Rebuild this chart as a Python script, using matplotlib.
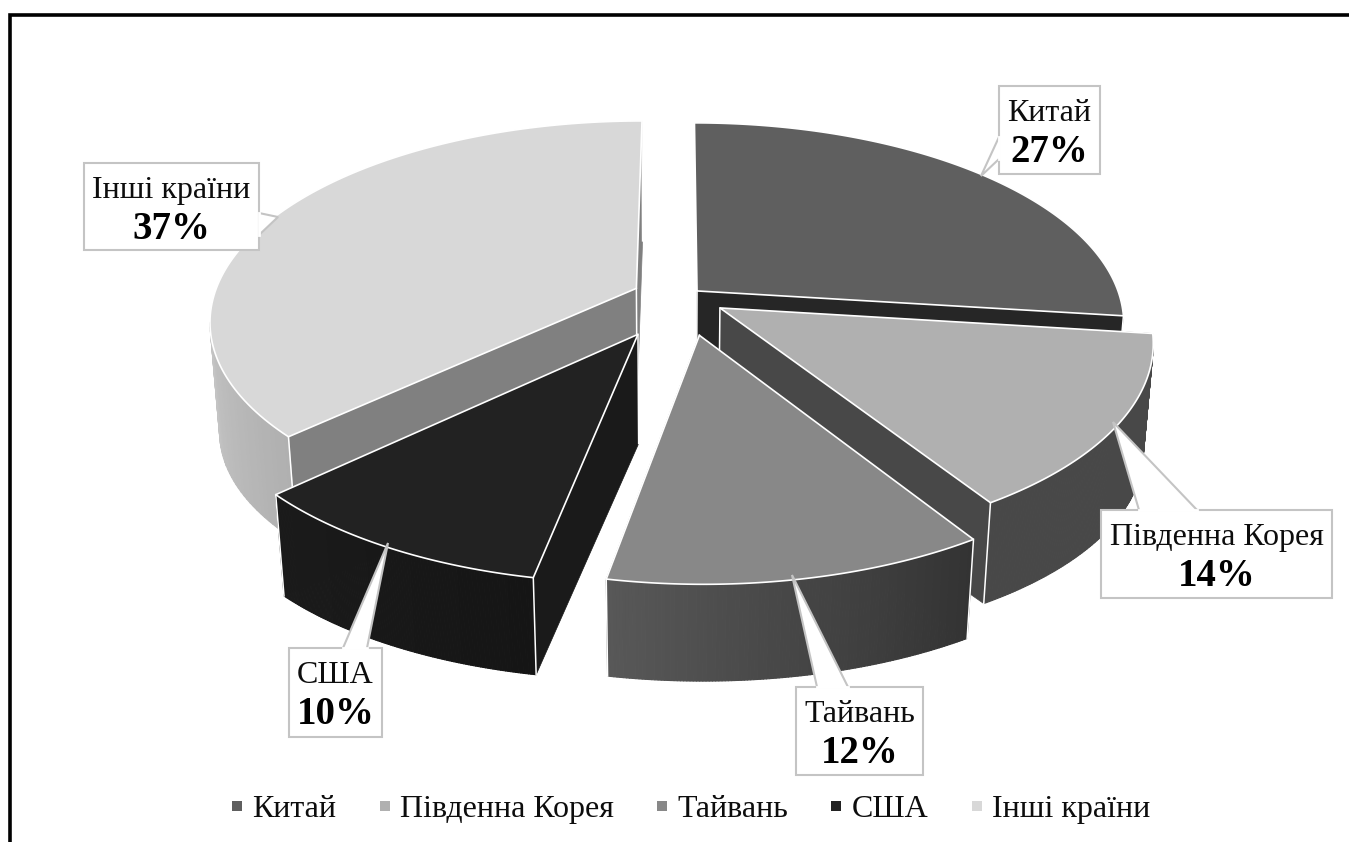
import numpy as np
import matplotlib
matplotlib.use("Agg")
import matplotlib.pyplot as plt
from matplotlib.collections import PolyCollection
from matplotlib.lines import Line2D
from matplotlib.patches import Polygon

plt.rcParams['font.family'] = ['Liberation Serif', 'DejaVu Sans']

# Data
countries = ["Китай", "Південна Корея", "Тайвань", "США", "Інші країни"]
shares = [27, 14, 12, 10, 37]

# Colours of each slice
top_colors = ["#5f5f5f", "#b0b0b0", "#888888", "#222222", "#d8d8d8"]
cut_colors = ["#262626", "#484848", "#444444", "#1a1a1a", "#808080"]
rim_from = ["#282828", "#484848", "#333333", "#151515", "#b0b0b0"]
rim_to = ["#282828", "#484848", "#585858", "#1b1b1b", "#c4c4c4"]

# Perspective of the pie, fitted on the reference corners
center_x, center_y = 677.97, -50.35
radius, depth, persp = 305.14, 102.15, 0.1136
explode_x = [0.0453, 0.0983, 0.0491, -0.0918, -0.0990]
explode_y = [-2.4219, -2.5080, -2.6423, -2.6374, -2.4085]

# Callout boxes: left, top, right, bottom, then the pointer
boxes = [(999, 86, 1100, 174), (1101, 510, 1332, 598), (796, 687, 923, 775),
         (289, 648, 382, 737), (84, 163, 259, 250)]
pointers = [[(999, 137), (981, 176), (999, 159)],
            [(1139, 510), (1113, 422), (1197, 510)],
            [(817, 687), (792, 575), (848, 687)],
            [(343, 648), (388, 543), (367, 648)],
            [(259, 213), (278, 217), (259, 235)]]


def project(X, Y):
    f = 1 / (1 + persp * Y)
    return center_x + radius * X * f, center_y - depth * Y * f


def drop(x, y):
    # bottom of the pie for a point of its top face
    return x - 0.021 * (x - 670), y + 97 + 0.05 * (580 - y)


def to_rgb(c):
    return np.array(matplotlib.colors.to_rgb(c))


fig = plt.figure(figsize=(13.49, 8.42), dpi=100)
ax = fig.add_axes([0, 0, 1, 1])
ax.set_xlim(0, 1349)
ax.set_ylim(842, 0)
ax.axis("off")

# frame, only top and left are there
ax.plot([10, 10, 1349], [842, 14.5, 14.5], color="black", lw=2.6, solid_joinstyle="miter")

angles = np.concatenate([[0], np.cumsum(shares)]) / sum(shares) * 2 * np.pi

# back slices first, zorder keeps the painting order
z = 2
for i in [0, 4, 1, 3, 2]:
    t = np.linspace(angles[i], angles[i + 1], 121)
    xr, yr = project(explode_x[i] + np.sin(t), explode_y[i] + np.cos(t))
    xa, ya = project(explode_x[i], explode_y[i])
    xb, yb = drop(xr, yr)
    xab, yab = drop(xa, ya)

    # cut faces, the first slice shows only its end one
    for k in ([-1] if i == 0 else [0, -1]):
        ax.add_patch(Polygon([(xa, ya), (xr[k], yr[k]), (xb[k], yb[k]), (xab, yab)],
                             closed=True, fc=cut_colors[i], ec=cut_colors[i], lw=0.5, zorder=z))

    # outer wall with its shading, only the part that faces the viewer
    front = [k for k in range(len(t) - 1) if xr[k + 1] < xr[k]]
    quads = []
    shade = []
    for n, k in enumerate(front):
        quads.append([(xr[k], yr[k]), (xr[k + 1], yr[k + 1]), (xb[k + 1], yb[k + 1]), (xb[k], yb[k])])
        shade.append(to_rgb(rim_from[i]) + (to_rgb(rim_to[i]) - to_rgb(rim_from[i])) * n / max(len(front) - 1, 1))
    ax.add_collection(PolyCollection(quads, facecolors=shade, edgecolors=shade, linewidths=0.8, zorder=z + 0.1))

    # white corners, not on the outline of slice 2
    corners = [(xa, ya, xab, yab), (xr[-1], yr[-1], xb[-1], yb[-1])]
    if i != 1:
        corners.append((xr[0], yr[0], xb[0], yb[0]))
    for xv, yv, xw, yw in corners:
        ax.plot([xv, xw], [yv, yw], color="white", lw=1.1, zorder=z + 0.2)

    # top face
    ax.add_patch(Polygon(np.column_stack([np.r_[xa, xr], np.r_[ya, yr]]), closed=True,
                         fc=top_colors[i], ec="white", lw=1.2, joinstyle="miter", zorder=z + 0.3))
    z += 1

# callouts
for i in range(len(countries)):
    left, top, right, bottom = boxes[i]
    ax.add_patch(Polygon([(left, top), (right, top), (right, bottom), (left, bottom)], closed=True,
                         fc="white", ec="#c4c4c4", lw=1.5, joinstyle="miter", zorder=10))
    ax.add_patch(Polygon(pointers[i], closed=False, fc="white", ec="#c4c4c4", lw=1.5, joinstyle="miter", zorder=10.1))
    # hide the box side under the pointer
    ax.plot([pointers[i][0][0], pointers[i][2][0]], [pointers[i][0][1], pointers[i][2][1]], color="white", lw=2, zorder=10.2)
    xc = (left + right) / 2
    ax.text(xc, top + 35, countries[i], fontsize=23, ha="center", va="baseline", color="#0d0d0d", zorder=11)
    ax.text(xc, top + 76, str(shares[i]) + "%", fontsize=28, fontweight="bold", ha="center", va="baseline", color="black", zorder=11)

handles = [Line2D([], [], ls="", marker="s", ms=7.6, color=c, mew=0) for c in top_colors]
ax.legend(handles, countries, loc="center", bbox_to_anchor=(691, 809), bbox_transform=ax.transData, ncol=5,
          frameon=False, fontsize=23, handlelength=0.35, handletextpad=0.31, columnspacing=1.33,
          borderpad=0, borderaxespad=0, labelcolor="#0d0d0d")

fig.savefig("out.png", dpi=100)
